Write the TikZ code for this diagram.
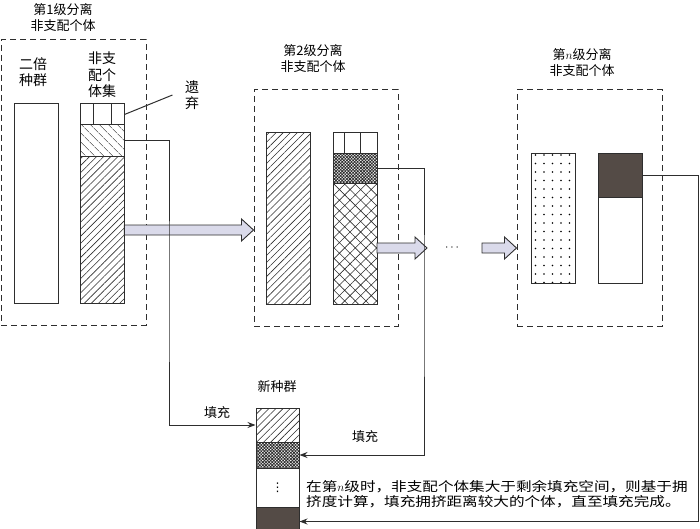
\documentclass[tikz,border=0pt]{standalone}
\usepackage{fontspec}
\setmainfont{Noto Sans CJK SC}
\newfontfamily\widecjk[FakeStretch=1.2]{Noto Sans CJK SC}
\newfontfamily\symfont{DejaVu Sans}
\usepackage{tikz}
\usetikzlibrary{calc, patterns.meta, arrows.meta}
\definecolor{linec}{HTML}{2E2E2E}
\definecolor{arrfill}{HTML}{DADAEA}
\definecolor{darkfill}{HTML}{544B46}
\newcommand\fatarrow[2]{%
  \draw[fatarr] let \p1=(#1), \p2=(#2) in
    (\x1,\y1+5pt) -- (\x2-12pt,\y1+5pt) -- (\x2-12pt,\y1+11pt) -- (\x2,\y1) --
    (\x2-12pt,\y1-11pt) -- (\x2-12pt,\y1-5pt) -- (\x1,\y1-5pt) -- cycle;}
\tikzset{
  col/.style={draw=linec, line width=1pt, minimum width=44pt, inner sep=0pt},
  sepbox/.style={draw=linec, dash pattern=on 6pt off 4pt, line width=1pt, inner sep=0pt},
  cellline/.style={draw=linec, line width=1pt},
  conn/.style={draw=linec, line width=1pt},
  fatarr/.style={draw=linec, fill=arrfill, line width=0.9pt},
  nelines/.style={pattern={Lines[angle=45,distance=5pt,line width=0.6pt]}, pattern color=linec},
  nwlines/.style={pattern={Lines[angle=-45,distance=6.5pt,line width=0.6pt]}, pattern color=linec},
  diamonds/.style={pattern={Hatch[angle=45,distance=7.5pt,line width=0.6pt]}, pattern color=linec},
  densex/.style={pattern={Hatch[angle=45,distance=2.2pt,line width=0.8pt]}, pattern color=linec},
  dotted/.style={pattern={Dots[distance=8.5pt,radius=0.9pt]}, pattern color=black},
  lab/.style={align=center, font=\fontsize{14}{16.5}\selectfont}
}

\begin{document}
\begin{tikzpicture}[x=1pt, y=-1pt, >={Stealth[length=8pt,width=6pt]}, font=\fontsize{13}{15.5}\selectfont, text=black]

\clip (0,0) rectangle (700,529);

% stage 1
\node[sepbox, minimum width=145pt, minimum height=285pt] (sep1) at (73.5,182.5) {};
\node[align=center] (t1) at (63,17.5) {第1级分离\\非支配个体};
\node[lab] (lab1) at (33,72) {二倍\\种群};
\node[lab] (lab2) at (102,75) {非支\\配个\\体集};
\node[lab] (drop) at (192,95) {遗\\弃};
\node[col, minimum height=199pt] (pop1) at (36,203.5) {};
\node[col, minimum height=21pt] (top1) at (102,114.5) {};
\foreach \cx in {93,111} \draw[cellline] (\cx,104) -- (\cx,125);
\node[col, nwlines, minimum height=32pt] (mid1) at (102,141) {};
\node[col, nelines, minimum height=146pt] (low1) at (102,230) {};
\draw[conn] (top1.east) -- ($(drop.west)+(-9,0)$);

% stage 2
\node[sepbox, minimum width=144pt, minimum height=236pt] (sep2) at (326,208) {};
\node[align=center] (t2) at (313,58.5) {第2级分离\\非支配个体};
\node[col, nelines, minimum height=171pt] (pop2) at (288.5,218.5) {};
\node[col, minimum height=21pt] (top2) at (355,143.5) {};
\foreach \cx in {344,360} \draw[cellline] (\cx,133) -- (\cx,154);
\node[col, densex, minimum height=30pt] (mid2) at (355,169) {};
\node[col, diamonds, minimum height=120pt] (low2) at (355,244) {};

% stage n
\node[sepbox, minimum width=145pt, minimum height=236pt] (sepn) at (589.5,208) {};
\node[align=center] (tn) at (582,62.5) {第$n$级分离\\非支配个体};
\node[col, dotted, minimum height=129pt] (popn) at (553,218.5) {};
\node[col, fill=darkfill, minimum height=44pt] (topn) at (620,176) {};
\node[col, minimum height=85pt] (lown) at (620,240.5) {};
\node (gap) at (452,248) {$\cdots$};

\coordinate (a2) at (377,248);
\coordinate (a3) at (482,248);
\fatarrow{low1.east}{sep2.west |- low1.east}
\fatarrow{a2}{427,248}
\fatarrow{a3}{sepn.west |- a3}

% new population
\node (newlab) at (277,387) {新种群};
\node[col, nelines, minimum width=43pt, minimum height=34pt] (newtop) at (277.5,425) {};
\node[col, densex, minimum width=43pt, minimum height=26pt] (newmid) at (277.5,455) {};
\node[col, minimum width=43pt, minimum height=39pt, font=\symfont\fontsize{12}{12}\selectfont] (newdots) at (277.5,487.5) {⋮};
\node[col, fill=darkfill, minimum width=43pt, minimum height=29pt] (newbot) at (277.5,521.5) {};
\node (fill1) at (217,413) {填充};
\node (fill2) at (365,437) {填充};
\node[anchor=west, align=left, inner sep=0pt, font=\fontsize{13}{14.5}\selectfont\widecjk] (note) at (306,494)
  {在第$n$级时，非支配个体集大于剩余填充空间，则基于拥\\挤度计算，填充拥挤距离较大的个体，直至填充完成。};

\coordinate (turn1) at (169,300);
\coordinate (turn2) at (424,300);
\coordinate (turn3) at (698,300);
\draw[conn,->] (mid1.east) -| (turn1) |- (newtop.west);
\draw[conn,->] (mid2.east) -| (turn2) |- (newmid.east);
\draw[conn,->] (topn.east) -| (turn3) |- (newbot.east);

\end{tikzpicture}
\end{document}
